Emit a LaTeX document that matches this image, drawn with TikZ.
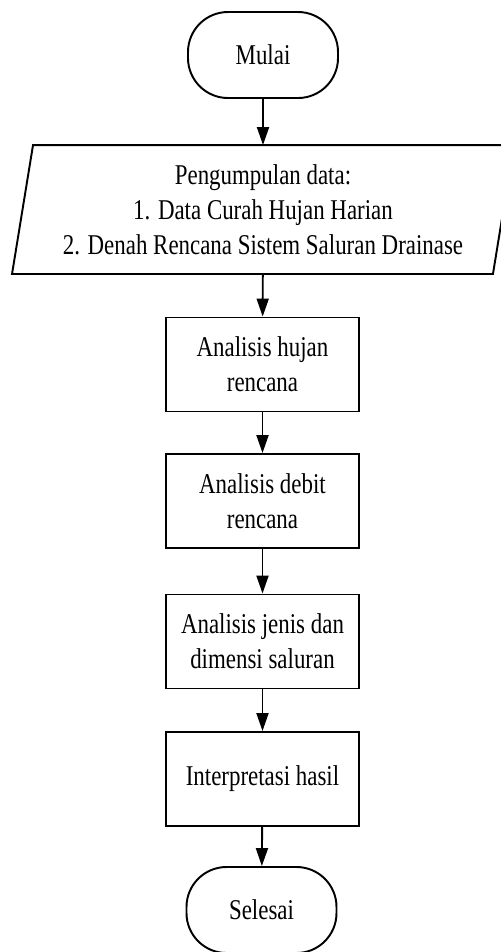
\documentclass[tikz,border=0pt]{standalone}
\usepackage{fontspec}
\setmainfont{Liberation Serif}[FakeStretch=0.8]
\usetikzlibrary{arrows.meta}

\begin{document}
\begin{tikzpicture}[
    line width=1.1pt,
    >={Triangle[length=0.36cm, width=0.24cm]},
    every node/.style={font=\fontsize{16.3}{19.9}\selectfont, align=center},
    terminal/.style={rectangle, draw, rounded corners=0.8cm, minimum width=3cm, minimum height=1.72cm},
    process/.style={rectangle, draw, minimum width=3.86cm, minimum height=1.88cm}
  ]
    \useasboundingbox (0,0) rectangle (10.02,-19.04);

    \node[terminal] (start)  at (5.26,-1.10) {Mulai};
    \node[minimum width=9.58cm, minimum height=2.54cm] (data) at (5.26,-4.19)
        {Pengumpulan data:\\ 1. Data Curah Hujan Harian\\ 2. Denah Rencana Sistem Saluran Drainase};
    \node[process] (rain)   at (5.25,-7.29)  {Analisis hujan\\ rencana};
    \node[process] (debit)  at (5.25,-10.02) {Analisis debit\\ rencana};
    \node[process] (canal)  at (5.25,-12.83) {Analisis jenis dan\\ dimensi saluran};
    \node[process] (result) at (5.25,-15.58) {Interpretasi hasil};
    \node[terminal] (finish) at (5.23,-18.20) {Selesai};

    % input box drawn round the text node
    \draw ([xshift=-0.21cm]data.south west) -- ([xshift=0.21cm]data.north west)
        -- ([xshift=0.21cm]data.north east) -- ([xshift=-0.21cm]data.south east) -- cycle;

    \draw[->] (start) -- (data);
    \draw[->] (data) -- (rain);
    \draw[->] (rain) -- (debit);
    \draw[->] (debit) -- (canal);
    \draw[->] (canal) -- (result);
    \draw[->] (result) -- (finish);
\end{tikzpicture}
\end{document}
